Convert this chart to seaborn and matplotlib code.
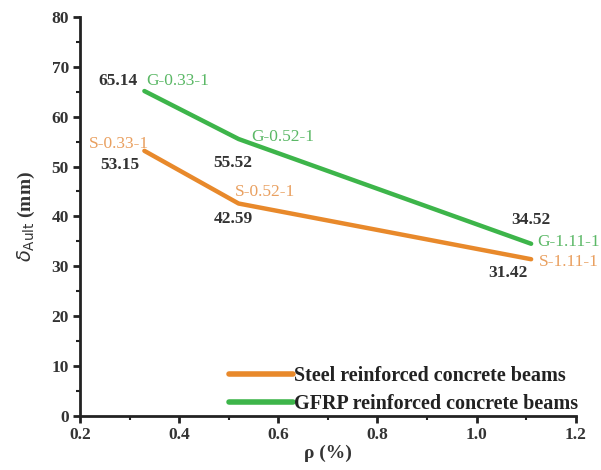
import matplotlib
matplotlib.use("Agg")
import matplotlib.pyplot as plt
import seaborn as sns
import pandas as pd
from matplotlib.ticker import MultipleLocator

rho = [0.33, 0.52, 1.11]
steel = [53.15, 42.59, 31.42]
gfrp = [65.14, 55.52, 34.52]
steel_labels = ["S-0.33-1", "S-0.52-1", "S-1.11-1"]
gfrp_labels = ["G-0.33-1", "G-0.52-1", "G-1.11-1"]
series_names = ["Steel reinforced concrete beams", "GFRP reinforced concrete beams"]

sns.set_theme(style="ticks")
plt.rcParams['font.family'] = ['Liberation Serif', 'DejaVu Serif']

df = pd.DataFrame({
    "rho": rho * 2,
    "delta": steel + gfrp,
    "series": [series_names[0]] * 3 + [series_names[1]] * 3,
})

c_steel = "#E8892B"
c_gfrp = "#3DB54A"

fig = plt.figure(figsize=(6.01, 4.70), dpi=100)
ax = fig.add_axes([0.133, 0.115, 0.825, 0.849])
sns.lineplot(data=df, x="rho", y="delta", hue="series",
             palette={series_names[0]: c_steel, series_names[1]: c_gfrp},
             linewidth=3.2, ax=ax)

ax.set_xlim(0.2, 1.2)
ax.set_ylim(0, 80)
ax.xaxis.set_major_locator(MultipleLocator(0.2))
ax.xaxis.set_minor_locator(MultipleLocator(0.1))
ax.yaxis.set_major_locator(MultipleLocator(10))
ax.yaxis.set_minor_locator(MultipleLocator(5))
ax.set_xticklabels([f"{v:.1f}" for v in ax.get_xticks()])
for s in ["top", "right"]:
    ax.spines[s].set_visible(False)
for s in ["left", "bottom"]:
    ax.spines[s].set_linewidth(2)
    ax.spines[s].set_color("#222222")
ax.tick_params(which="major", length=5, width=2, color="#222222",
               labelsize=12.5, labelcolor="#333333", pad=3)
ax.tick_params(which="minor", length=3, width=1.5, color="#222222")
for lab in ax.get_xticklabels() + ax.get_yticklabels():
    lab.set_fontweight("bold")

ax.set_xlabel("ρ (%)", fontsize=14, fontweight="bold", color="#333333", labelpad=1)
ax.set_ylabel(r"$\delta_{\mathrm{Ault}}$ (mm)", fontsize=14, fontweight="bold",
              color="#333333", labelpad=10)

num_kw = dict(fontsize=12.5, color="#333333", ha="center", va="center", fontweight="bold")
lab_kw = dict(fontsize=12.5, ha="center", va="center")
# offsets in points
val_off_g = [(-19, 7), (-4, -17), (0, 17)]
val_off_s = [(-18, -10), (-4, -11), (-17, -10)]
lab_off_g = [(24, 7), (32, 1.5), (27, 1)]
lab_off_s = [(-18, 5), (19, 8), (27, -2)]
for i in range(3):
    ax.annotate(f"{gfrp[i]:.2f}", (rho[i], gfrp[i]), xytext=val_off_g[i],
                textcoords="offset points", **num_kw)
    ax.annotate(f"{steel[i]:.2f}", (rho[i], steel[i]), xytext=val_off_s[i],
                textcoords="offset points", **num_kw)
    ax.annotate(gfrp_labels[i], (rho[i], gfrp[i]), xytext=lab_off_g[i],
                textcoords="offset points", color="#5BB866", annotation_clip=False, **lab_kw)
    ax.annotate(steel_labels[i], (rho[i], steel[i]), xytext=lab_off_s[i],
                textcoords="offset points", color="#E9A060", annotation_clip=False, **lab_kw)

leg = ax.legend(loc="lower right", frameon=False, fontsize=14.5,
                handlelength=3.2, handletextpad=0.05, borderaxespad=0.0,
                labelspacing=0.4, bbox_to_anchor=(1.022, -0.015))
for t in leg.get_texts():
    t.set_fontweight("bold")
    t.set_color("#222222")
for h in leg.get_lines():
    h.set_linewidth(4)

fig.savefig("out.png", dpi=100, facecolor="white")
